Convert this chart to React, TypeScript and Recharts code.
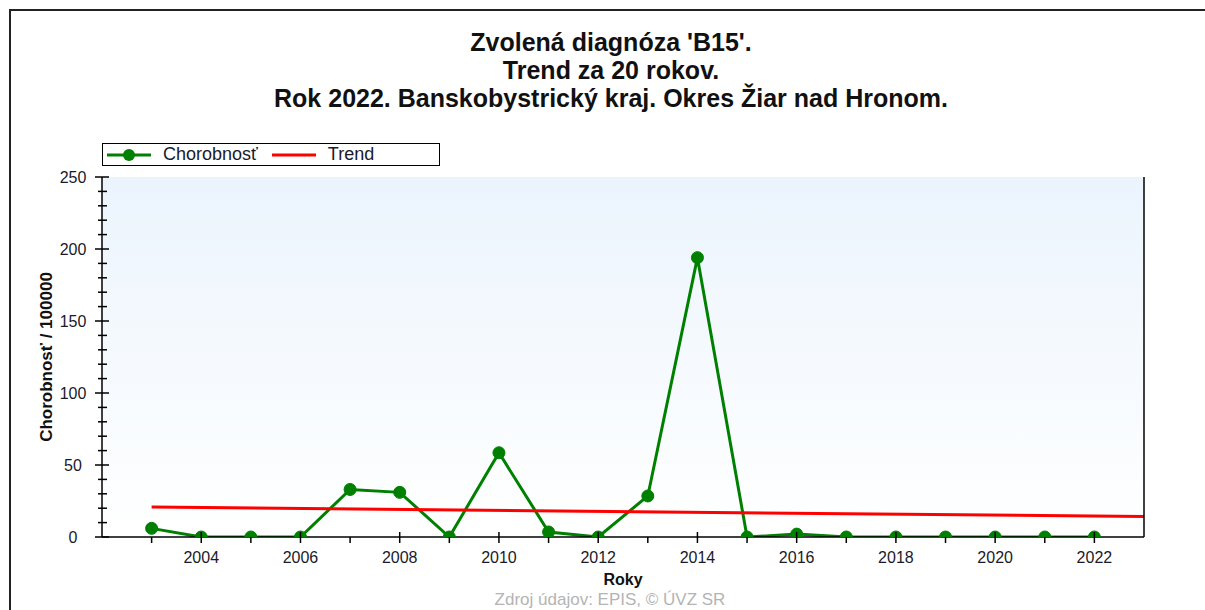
import React from 'react';
import { LineChart, Line, XAxis, YAxis, CartesianGrid, Legend, Label } from 'recharts';

// Chorobnosť per year
const years = [2003, 2004, 2005, 2006, 2007, 2008, 2009, 2010, 2011, 2012, 2013, 2014, 2015, 2016, 2017, 2018, 2019, 2020, 2021, 2022];
const chorobnost = [6, 0, 0, 0, 33, 31, 0, 58.5, 3.5, 0, 28.5, 194, 0, 2, 0, 0, 0, 0, 0, 0];

// linear trend line, endpoints
const trendYears = [2003, 2023];
const trendValues = [20.8, 14.2];

const xTicks = [2003, 2004, 2005, 2006, 2007, 2008, 2009, 2010, 2011, 2012, 2013, 2014, 2015, 2016, 2017, 2018, 2019, 2020, 2021, 2022];
const yTicks = [0, 10, 20, 30, 40, 50, 60, 70, 80, 90, 100, 110, 120, 130, 140, 150, 160, 170, 180, 190, 200, 210, 220, 230, 240, 250];

const rows = years.map((rok, i) => ({ rok, chorobnost: chorobnost[i] }));
const trendRows = trendYears.map((rok, i) => ({ rok, trend: trendValues[i] }));

const FONT = '"Liberation Sans", Arial, sans-serif';
const GREEN = '#008000';
const RED = '#ff0000';

const LeftTick = (props: any) => {
  const { x, y, payload } = props;
  const major = payload.value % 50 === 0;
  return (
    <g>
      <line x1={major ? x - 7 : x - 4} x2={major ? x + 7 : x + 5} y1={y} y2={y} stroke="#000" strokeWidth={1.5} />
      {major && (
        <text x={x - 29} y={y + 6} textAnchor="middle" fontSize={16} fontFamily={FONT} fill="#1a1a2a">
          {payload.value}
        </text>
      )}
    </g>
  );
};

const RightTick = (props: any) => {
  const { x, y, payload } = props;
  const major = payload.value % 50 === 0;
  return (
    <g>
      <line x1={major ? x - 7 : x - 4} x2={major ? x + 7 : x + 5} y1={y} y2={y} stroke="#000" strokeWidth={1.5} />
      {major && (
        <text x={x + 26} y={y + 6} textAnchor="middle" fontSize={16} fontFamily={FONT} fill="#1a1a2a">
          {payload.value}
        </text>
      )}
    </g>
  );
};

const BottomTick = (props: any) => {
  const { x, y, payload } = props;
  const major = payload.value % 2 === 0;
  return (
    <g>
      <line x1={x} x2={x} y1={major ? y - 5 : y} y2={y + 6} stroke="#000" strokeWidth={1.5} />
      {major && (
        <text x={x} y={y + 26} textAnchor="middle" fontSize={16} fontFamily={FONT} fill="#1a1a2a">
          {payload.value}
        </text>
      )}
    </g>
  );
};

const TopTick = (props: any) => {
  const { x, y } = props;
  return <line x1={x} x2={x} y1={y} y2={y + 5} stroke="#000" strokeWidth={1.5} />;
};

const LegendBox = (props: any) => {
  const { payload } = props;
  return (
    <div
      style={{
        width: 336,
        height: 21,
        border: '1.5px solid #000',
        display: 'flex',
        alignItems: 'center',
        fontFamily: FONT,
        fontSize: 18,
        color: '#1a1a2a',
        background: '#fff',
      }}
    >
      {(payload || []).map((p: any) => (
        <div key={p.value} style={{ display: 'flex', alignItems: 'center', marginLeft: p.dataKey === 'trend' ? 14 : 4 }}>
          <svg width={44} height={16}>
            <line x1={0} x2={44} y1={8} y2={8} stroke={p.color} strokeWidth={3} />
            {p.dataKey === 'chorobnost' && <circle cx={22} cy={8} r={6} fill={GREEN} />}
          </svg>
          <span style={{ marginLeft: 12 }}>{p.value}</span>
        </div>
      ))}
    </div>
  );
};

export default function App() {
  return (
    <div style={{ position: 'absolute', left: 0, top: 0, width: 1205, height: 610, overflow: 'hidden', background: '#fff' }}>
      <div
        style={{
          position: 'absolute',
          left: 9,
          top: 9,
          width: 1220,
          height: 640,
          border: '2px solid #222',
        }}
      />
      <div
        style={{
          position: 'absolute',
          left: 0,
          top: 28,
          width: 1222,
          textAlign: 'center',
          fontFamily: FONT,
          fontWeight: 'bold',
          fontSize: 25,
          lineHeight: '28px',
          color: '#111',
        }}
      >
        <div>Zvolená diagnóza 'B15'.</div>
        <div>Trend za 20 rokov.</div>
        <div>Rok 2022. Banskobystrický kraj. Okres Žiar nad Hronom.</div>
      </div>
      <div style={{ position: 'absolute', left: 0, top: 0 }}>
        <LineChart width={1205} height={610} data={rows} margin={{ top: 177, right: 0, bottom: 0, left: 0 }}>
          <defs>
            <linearGradient id="plotBg" x1="0" y1="0" x2="0" y2="1">
              <stop offset="0%" stopColor="#ebf4fd" />
              <stop offset="100%" stopColor="#ffffff" />
            </linearGradient>
          </defs>
          <CartesianGrid horizontal={false} vertical={false} fill="url(#plotBg)" />
          <XAxis
            dataKey="rok"
            type="number"
            domain={[2002, 2023]}
            ticks={xTicks}
            interval={0}
            height={73}
            tickSize={0}
            tickMargin={0}
            tickLine={false}
            tick={<BottomTick />}
            axisLine={{ stroke: '#000', strokeWidth: 1.5 }}
            allowDataOverflow
          >
            <Label
              content={() => (
                <text x={623} y={585} textAnchor="middle" fontSize={16} fontWeight="bold" fontFamily={FONT} fill="#111">
                  Roky
                </text>
              )}
            />
          </XAxis>
          <XAxis
            xAxisId="top"
            orientation="top"
            dataKey="rok"
            type="number"
            domain={[2002, 2023]}
            ticks={xTicks}
            interval={0}
            height={0}
            tickSize={0}
            tickMargin={0}
            tickLine={false}
            tick={<TopTick />}
            axisLine={{ stroke: '#000', strokeWidth: 1.5 }}
          />
          <YAxis
            yAxisId="left"
            domain={[0, 250]}
            ticks={yTicks}
            interval={0}
            width={102}
            tickSize={0}
            tickMargin={0}
            tickLine={false}
            tick={<LeftTick />}
            axisLine={{ stroke: '#000', strokeWidth: 1.5 }}
            allowDataOverflow
          >
            <Label
              content={() => (
                <text
                  x={46}
                  y={357}
                  transform="rotate(-90 46 357)"
                  textAnchor="middle"
                  dominantBaseline="central"
                  fontSize={17}
                  fontWeight="bold"
                  fontFamily={FONT}
                  fill="#111"
                >
                  Chorobnosť / 100000
                </text>
              )}
            />
          </YAxis>
          <YAxis
            yAxisId="right"
            orientation="right"
            domain={[0, 250]}
            ticks={yTicks}
            interval={0}
            width={61}
            tickSize={0}
            tickMargin={0}
            tickLine={false}
            tick={<RightTick />}
            axisLine={{ stroke: '#000', strokeWidth: 1.5 }}
          />
          <Legend
            verticalAlign="middle"
            align="center"
            layout="horizontal"
            wrapperStyle={{ position: 'absolute', left: 102, top: 143, width: 340 }}
            content={<LegendBox />}
          />
          <Line
            yAxisId="left"
            dataKey="chorobnost"
            name="Chorobnosť"
            stroke={GREEN}
            strokeWidth={3}
            dot={{ r: 6, fill: GREEN, stroke: GREEN, strokeWidth: 1 }}
            activeDot={false}
            isAnimationActive={false}
          />
          <Line
            yAxisId="left"
            data={trendRows}
            dataKey="trend"
            name="Trend"
            stroke={RED}
            strokeWidth={3}
            dot={false}
            activeDot={false}
            isAnimationActive={false}
          />
        </LineChart>
      </div>
      <div
        style={{
          position: 'absolute',
          left: 0,
          top: 590,
          width: 1220,
          textAlign: 'center',
          fontFamily: FONT,
          fontSize: 17,
          lineHeight: '19px',
          color: '#b4b4b4',
        }}
      >
        Zdroj údajov: EPIS, © ÚVZ SR
      </div>
    </div>
  );
}
